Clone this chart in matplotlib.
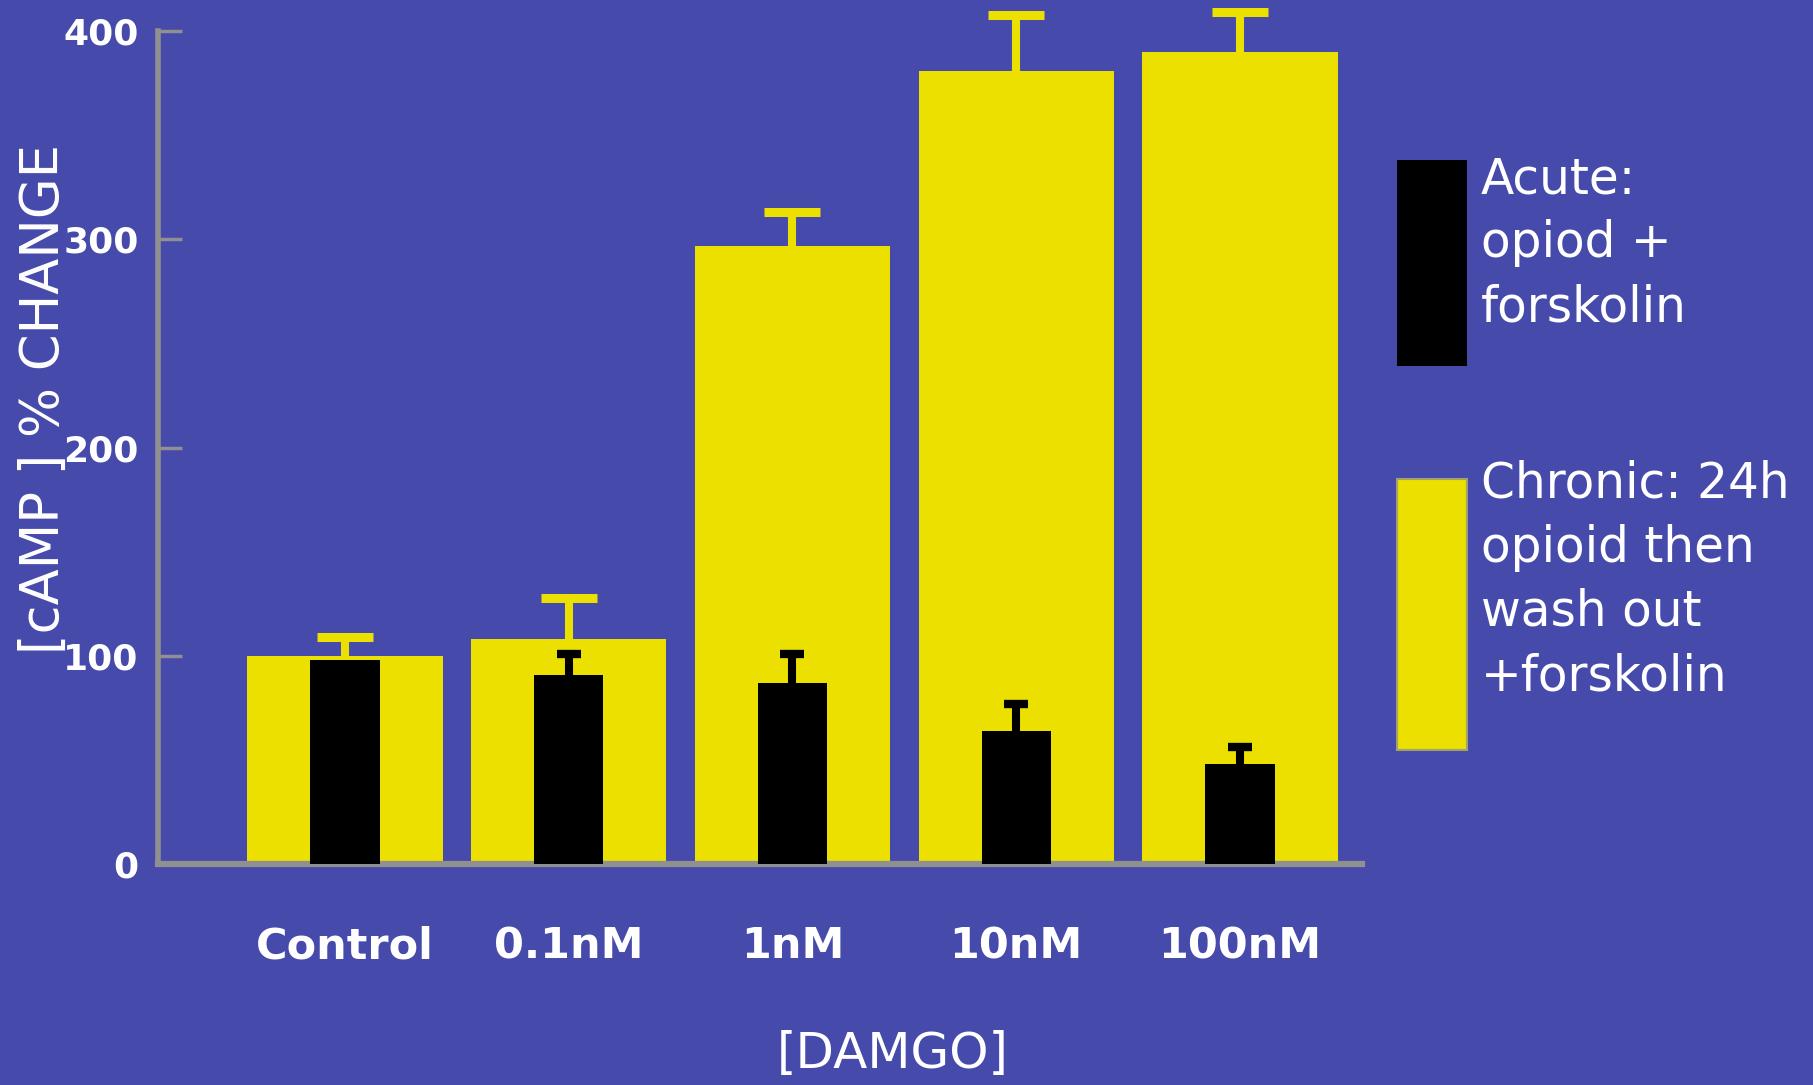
import matplotlib.pyplot as plt
import numpy as np
from matplotlib.patches import Rectangle

# data
doses = ['Control', '0.1nM', '1nM', '10nM', '100nM']
chronic = [100, 108, 297, 381, 390]
chronic_err = [9, 20, 16, 27, 19]
acute = [98, 91, 87, 64, 48]
acute_err = [0, 10, 14, 13, 8]

bg = '#454AAB'
yellow = '#EBE000'
grey = '#909090'
W, H = 1813, 1085

plt.rcParams['font.family'] = ['DejaVu Sans']

fig = plt.figure(figsize=(W / 100, H / 100), dpi=100)
fig.patch.set_facecolor(bg)

def fx(px):
    return px / W

def fy(py):
    return 1 - py / H

# axes box in pixels of the full picture
left, right, bottom, top = 158, 1362, 864, 0
ax = fig.add_axes([fx(left), fy(bottom), fx(right) - fx(left), fy(top) - fy(bottom)])
ax.set_facecolor(bg)

x = np.arange(len(doses))
ax.bar(x, chronic, width=0.873, color=yellow, zorder=2)
eb = ax.errorbar(x, chronic, yerr=[np.zeros(len(x)), chronic_err], fmt='none',
                 ecolor=yellow, elinewidth=5.8, capsize=20.5, capthick=6.5, zorder=2)
eb[1][0].set_visible(False)  # only the upper cap
ax.bar(x, acute, width=0.31, color='black', zorder=3)
has_err = np.array(acute_err) > 0
ae = np.array(acute_err)[has_err]
eb = ax.errorbar(x[has_err], np.array(acute)[has_err], yerr=[np.zeros(len(ae)), ae],
                 fmt='none', ecolor='black', elinewidth=5.8, capsize=8.3, capthick=6, zorder=3)
eb[1][0].set_visible(False)

ax.set_xlim(-0.835, 4.545)
ax.set_ylim(0, 415)

for s in ['top', 'right']:
    ax.spines[s].set_visible(False)
ax.spines['left'].set_color(grey)
ax.spines['left'].set_linewidth(4)
ax.spines['left'].set_bounds(0, 400)
ax.spines['bottom'].set_color(grey)
ax.spines['bottom'].set_linewidth(4.5)

ax.set_yticks([0, 100, 200, 300, 400])
ax.set_yticklabels(['0', '100', '200', '300', '400'], fontsize=26,
                   fontweight='bold', color='white')
ax.tick_params(axis='y', direction='in', length=17, width=2.5, color=grey, pad=14)
ax.set_xticks(x)
ax.set_xticklabels(doses, fontsize=31, fontweight='bold', color='white')
ax.tick_params(axis='x', length=0, pad=44)

fig.text(fx(44), fy(399), '[cAMP ] % CHANGE', rotation=90, ha='center', va='center',
         fontsize=38, color='white')
fig.text(fx(893), fy(1054), '[DAMGO]', ha='center', va='center', fontsize=36,
         color='white')

# legend blocks
fig.patches.append(Rectangle((fx(1397), fy(366)), fx(1467) - fx(1397), fy(160) - fy(366),
                             transform=fig.transFigure, facecolor='black', edgecolor='none'))
fig.patches.append(Rectangle((fx(1397), fy(750)), fx(1467) - fx(1397), fy(479) - fy(750),
                             transform=fig.transFigure, facecolor=yellow, edgecolor='#A0A070',
                             linewidth=1.5))

acute_lines = ['Acute:', 'opiod +', 'forskolin']
for i, t in enumerate(acute_lines):
    fig.text(fx(1481), fy(179 + 64 * i), t, ha='left', va='center', fontsize=35, color='white')
chronic_lines = ['Chronic: 24h', 'opioid then', 'wash out', '+forskolin']
for i, t in enumerate(chronic_lines):
    fig.text(fx(1481), fy(483 + 64.5 * i), t, ha='left', va='center', fontsize=35, color='white')

fig.savefig('out.png', dpi=100, facecolor=bg)
